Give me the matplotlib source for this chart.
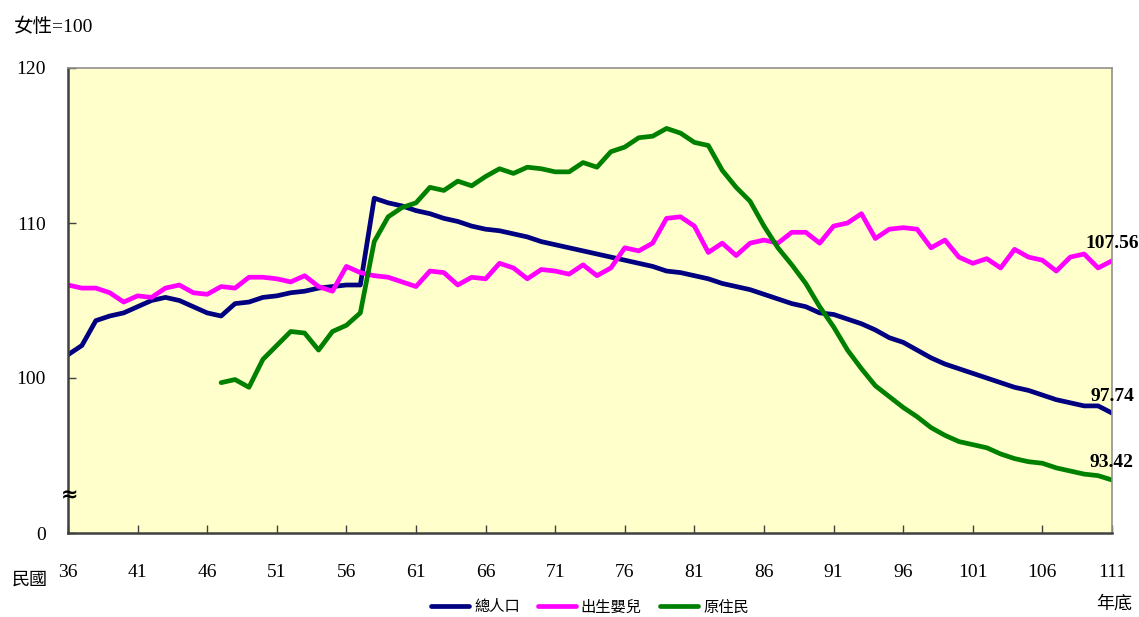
import matplotlib
matplotlib.use("Agg")
import matplotlib.pyplot as plt
import numpy as np

# 性比例 (女性=100), 民國年底
years = np.arange(36, 112)

total_pop = [
    101.5, 102.1, 103.7, 104.0, 104.2, 104.6, 105.0, 105.2, 105.0, 104.6,
    104.2, 104.0, 104.8, 104.9, 105.2, 105.3, 105.5, 105.6, 105.8, 105.9,
    106.0, 106.0, 111.6, 111.3, 111.1, 110.8, 110.6, 110.3, 110.1, 109.8,
    109.6, 109.5, 109.3, 109.1, 108.8, 108.6, 108.4, 108.2, 108.0, 107.8,
    107.6, 107.4, 107.2, 106.9, 106.8, 106.6, 106.4, 106.1, 105.9, 105.7,
    105.4, 105.1, 104.8, 104.6, 104.2, 104.1, 103.8, 103.5, 103.1, 102.6,
    102.3, 101.8, 101.3, 100.9, 100.6, 100.3, 100.0, 99.7, 99.4, 99.2,
    98.9, 98.6, 98.4, 98.2, 98.2, 97.74,
]

births = [
    106.0, 105.8, 105.8, 105.5, 104.9, 105.3, 105.2, 105.8, 106.0, 105.5,
    105.4, 105.9, 105.8, 106.5, 106.5, 106.4, 106.2, 106.6, 105.9, 105.6,
    107.2, 106.8, 106.6, 106.5, 106.2, 105.9, 106.9, 106.8, 106.0, 106.5,
    106.4, 107.4, 107.1, 106.4, 107.0, 106.9, 106.7, 107.3, 106.6, 107.1,
    108.4, 108.2, 108.7, 110.3, 110.4, 109.8, 108.1, 108.7, 107.9, 108.7,
    108.9, 108.7, 109.4, 109.4, 108.7, 109.8, 110.0, 110.6, 109.0, 109.6,
    109.7, 109.6, 108.4, 108.9, 107.8, 107.4, 107.7, 107.1, 108.3, 107.8,
    107.6, 106.9, 107.8, 108.0, 107.1, 107.56,
]

indig_years = np.arange(47, 112)
indigenous = [
    99.7, 99.9, 99.4, 101.2, 102.1, 103.0, 102.9, 101.8, 103.0, 103.4,
    104.2, 108.8, 110.4, 111.0, 111.3, 112.3, 112.1, 112.7, 112.4, 113.0,
    113.5, 113.2, 113.6, 113.5, 113.3, 113.3, 113.9, 113.6, 114.6, 114.9,
    115.5, 115.6, 116.1, 115.8, 115.2, 115.0, 113.4, 112.3, 111.4, 109.8,
    108.4, 107.3, 106.1, 104.6, 103.3, 101.8, 100.6, 99.5, 98.8, 98.1,
    97.5, 96.8, 96.3, 95.9, 95.7, 95.5, 95.1, 94.8, 94.6, 94.5,
    94.2, 94.0, 93.8, 93.7, 93.42,
]

series_names = ["總人口", "出生嬰兒", "原住民"]
colors = ["#000080", "#FF00FF", "#008000"]

xticks = np.arange(36, 112, 5)
yticks = [90, 100, 110, 120]
ytick_labels = ["0", "100", "110", "120"]

serif = ["Liberation Serif", "Noto Sans CJK TC"]
cjk = ["Noto Sans CJK TC", "Liberation Serif"]

fig = plt.figure(figsize=(11.39, 6.17), dpi=100)
ax = fig.add_axes([68 / 1139, 1 - 533 / 617, (1112 - 68) / 1139, (533 - 68) / 617])
ax.set_facecolor("#FFFFCC")

lw = 3.4
ax.plot(years, total_pop, color=colors[0], lw=lw, solid_joinstyle="round",
        solid_capstyle="round", label=series_names[0])
ax.plot(years, births, color=colors[1], lw=lw, solid_joinstyle="round",
        solid_capstyle="round", label=series_names[1])
ax.plot(indig_years, indigenous, color=colors[2], lw=lw, solid_joinstyle="round",
        solid_capstyle="round", label=series_names[2])

ax.set_xlim(36, 111)
ax.set_ylim(90, 120)
ax.set_xticks(xticks)
ax.set_xticklabels([str(v) for v in xticks], family=serif, fontsize=14)
ax.set_yticks(yticks)
ax.set_yticklabels(ytick_labels, family=serif, fontsize=14)
ax.tick_params(axis="x", direction="in", length=6, width=1, pad=22, color="#404040")
ax.tick_params(axis="y", direction="in", length=6, width=1, pad=16, color="#404040")

for s in ["left", "bottom"]:
    ax.spines[s].set_color("#404040")
    ax.spines[s].set_linewidth(1.8)
for s in ["top", "right"]:
    ax.spines[s].set_color("#909090")
    ax.spines[s].set_linewidth(1.2)

# end-of-series value labels
ax.text(111, births[-1] + 0.55, f"{births[-1]:.2f}", ha="center", va="bottom",
        family=serif, fontsize=14, fontweight="bold")
ax.text(111, total_pop[-1] + 0.55, f"{total_pop[-1]:.2f}", ha="center", va="bottom",
        family=serif, fontsize=14, fontweight="bold")
ax.text(111, indigenous[-1] + 0.55, f"{indigenous[-1]:.2f}", ha="center", va="bottom",
        family=serif, fontsize=14, fontweight="bold")

# axis break mark
ax.text(36.1, 92.4, "≈", ha="center", va="center", fontsize=15, fontweight="bold",
        family=["DejaVu Sans"], clip_on=False)

fig.text(14 / 1139, 1 - 27 / 617, "女性=100", ha="left", va="center",
         family=serif, fontsize=14)
fig.text(30 / 1139, 1 - 580 / 617, "民國", ha="center", va="center",
         family=cjk, fontsize=13)
fig.text(1114 / 1139, 1 - 604 / 617, "年底", ha="center", va="center",
         family=cjk, fontsize=13)

leg = fig.legend(loc="center", bbox_to_anchor=(590 / 1139, 1 - 607 / 617), ncol=3,
                 frameon=False, handlelength=2.5, handletextpad=0.3, columnspacing=1.2,
                 prop={"family": cjk, "size": 11})

fig.savefig("out.png", dpi=100)
